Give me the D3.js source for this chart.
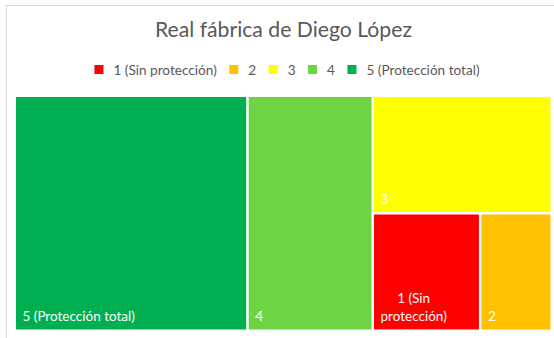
<!DOCTYPE html>
<html>
<head>
<meta charset="utf-8">
<script src="https://cdn.jsdelivr.net/npm/d3@7"></script>
<style>
  body { margin: 0; background: #fff; }
</style>
</head>
<body>
<svg id="chart" width="554" height="338"></svg>
<script>
// Protection levels and the number of items at each level
const categories = ["1 (Sin protección)", "2", "3", "4", "5 (Protección total)"];
const values = [3, 2, 5, 7, 13];
const colors = ["#FF0000", "#FFC000", "#FFFF00", "#6DD444", "#00B050"];
const title = "Real fábrica de Diego López";

const font = "Lato, 'Open Sans', sans-serif";
const svg = d3.select("#chart");

// Chart frame
svg.append("rect")
  .attr("x", 6.5).attr("y", 5.5)
  .attr("width", 600).attr("height", 400)
  .attr("fill", "#fff").attr("stroke", "#d9d9d9");

// Title
svg.append("text")
  .attr("x", 283.5).attr("y", 37)
  .attr("text-anchor", "middle")
  .attr("font-family", font).attr("font-size", 21.2)
  .attr("fill", "#595959")
  .text(title);

// Legend: measure each entry, then centre the whole row
const legendY = 75, sw = 9, swGap = 10, itemGap = 12.5, legendFs = 13.6;
const legend = svg.append("g");
const items = categories.map((c, i) => {
  const g = legend.append("g");
  g.append("rect").attr("width", sw).attr("height", sw)
    .attr("y", legendY - 10).attr("fill", colors[i]);
  const t = g.append("text")
    .attr("x", sw + swGap).attr("y", legendY)
    .attr("font-family", font).attr("font-size", legendFs)
    .attr("fill", "#595959").text(c);
  return { g, w: sw + swGap + t.node().getComputedTextLength() };
});
const totalW = d3.sum(items, d => d.w) + itemGap * (items.length - 1);
let lx = 287 - totalW / 2;
items.forEach(d => {
  d.g.attr("transform", `translate(${lx},0)`);
  lx += d.w + itemGap;
});

// Treemap
const plot = { x0: 16, y0: 97, x1: 550.5, y1: 329.5 };
const root = d3.hierarchy({
    children: categories.map((c, i) => ({ name: c, value: values[i], color: colors[i] }))
  })
  .sum(d => d.value || 0)
  .sort((a, b) => b.value - a.value);

d3.treemap()
  .tile(d3.treemapSquarify.ratio(1))
  .size([plot.x1 - plot.x0, plot.y1 - plot.y0])
  .paddingInner(2.5)(root);

const cells = svg.append("g")
  .attr("transform", `translate(${plot.x0},${plot.y0})`)
  .selectAll("g")
  .data(root.leaves())
  .join("g");

cells.append("rect")
  .attr("x", d => d.x0).attr("y", d => d.y0)
  .attr("width", d => d.x1 - d.x0).attr("height", d => d.y1 - d.y0)
  .attr("fill", d => d.data.color);

// Labels sit at the bottom-left; long ones wrap into centred lines
const labelFs = 13.5, lineH = 18.5, padX = 6.5, padB = 8.5;
cells.each(function (d) {
  const g = d3.select(this);
  const maxW = (d.x1 - d.x0) - 2 * padX;
  const probe = g.append("text").attr("font-family", font).attr("font-size", labelFs);
  const measure = s => { probe.text(s); return probe.node().getComputedTextLength(); };
  const words = d.data.name.split(" ");
  const lines = [];
  let cur = "";
  words.forEach(w => {
    const next = cur ? cur + " " + w : w;
    if (cur && measure(next) > maxW) { lines.push(cur); cur = w; }
    else cur = next;
  });
  lines.push(cur);
  const widths = lines.map(measure);
  probe.remove();
  const blockW = d3.max(widths);
  const centred = lines.length > 1;
  lines.forEach((ln, i) => {
    const y = d.y1 - padB - (lines.length - 1 - i) * lineH;
    g.append("text")
      .attr("x", centred ? d.x0 + padX + blockW / 2 : d.x0 + padX)
      .attr("y", y)
      .attr("text-anchor", centred ? "middle" : "start")
      .attr("font-family", font).attr("font-size", labelFs)
      .attr("fill", "#fff")
      .text(ln);
  });
});
</script>
</body>
</html>
